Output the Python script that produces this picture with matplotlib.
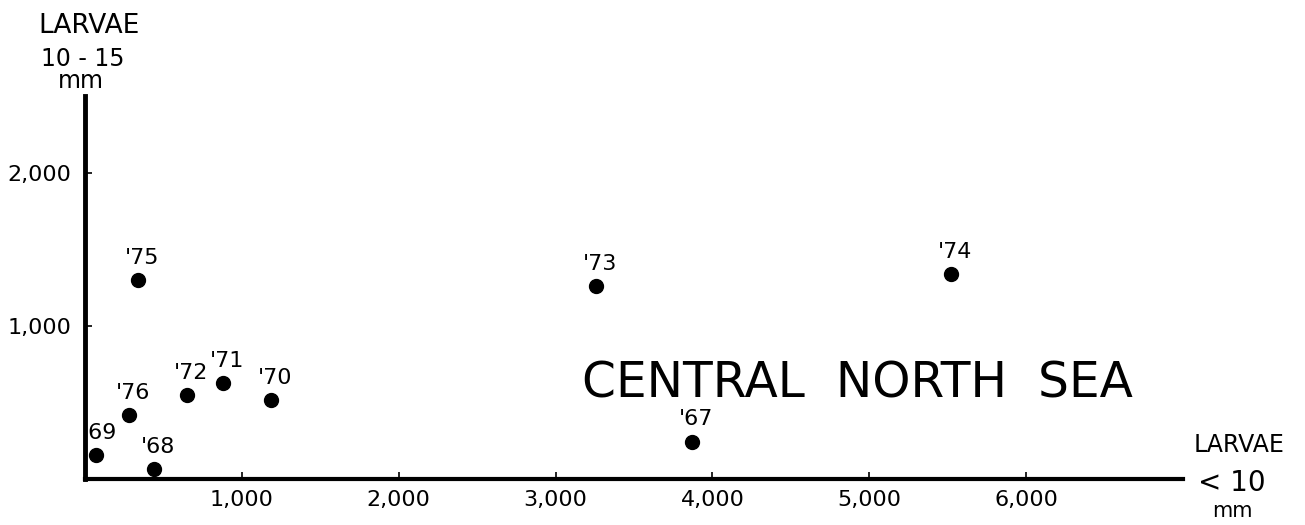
import matplotlib
matplotlib.use("Agg")
import matplotlib.pyplot as plt

# larvae counts per year, Central North Sea
years = ["'67", "'68", "'69", "'70", "'71", "'72", "'73", "'74", "'75", "'76"]
small_larvae = [3870, 440, 70, 1185, 880, 650, 3260, 5520, 340, 280]   # < 10 mm
large_larvae = [245, 65, 155, 515, 625, 550, 1260, 1340, 1300, 420]   # 10 - 15 mm
x_ticks = [1000, 2000, 3000, 4000, 5000, 6000]
y_ticks = [1000, 2000]

plt.rcParams['font.family'] = ['DejaVu Sans']

fig = plt.figure(figsize=(13.05, 5.25), dpi=100)
ax = fig.add_axes([0.0651, 0.0876, 0.8414, 0.7286])

ax.scatter(small_larvae, large_larvae, s=100, color='black', zorder=3, clip_on=False)
for yr, xv, yv in zip(years, small_larvae, large_larvae):
    ax.annotate(yr, (xv, yv), xytext=(3, 16), textcoords='offset points',
                ha='center', va='center', fontsize=16)

ax.set_xlim(0, 7000)
ax.set_ylim(0, 2500)
ax.set_xticks(x_ticks)
ax.set_xticklabels([f"{v:,}" for v in x_ticks])
ax.set_yticks(y_ticks)
ax.set_yticklabels([f"{v:,}" for v in y_ticks])
ax.tick_params(axis='both', direction='in', length=5, width=1.2, labelsize=16)
ax.tick_params(axis='x', pad=8)
ax.tick_params(axis='y', pad=10)

for s in ['top', 'right']:
    ax.spines[s].set_visible(False)
ax.spines['left'].set_linewidth(3.5)
ax.spines['bottom'].set_linewidth(3)

# y axis label
fig.text(89 / 1305, 1 - 26 / 525, "LARVAE", ha='center', va='center', fontsize=19)
fig.text(83 / 1305, 1 - 59 / 525, "10 - 15", ha='center', va='center', fontsize=17)
fig.text(81 / 1305, 1 - 81 / 525, "mm", ha='center', va='center', fontsize=17)

# x axis label
fig.text(1239 / 1305, 1 - 445 / 525, "LARVAE", ha='center', va='center', fontsize=17)
fig.text(1232 / 1305, 1 - 483 / 525, "< 10", ha='center', va='center', fontsize=20)
fig.text(1232 / 1305, 1 - 511 / 525, "mm", ha='center', va='center', fontsize=15)

fig.text(857 / 1305, 1 - 383 / 525, "CENTRAL  NORTH  SEA", ha='center', va='center',
         fontsize=35)

fig.savefig("out.png", dpi=100)
